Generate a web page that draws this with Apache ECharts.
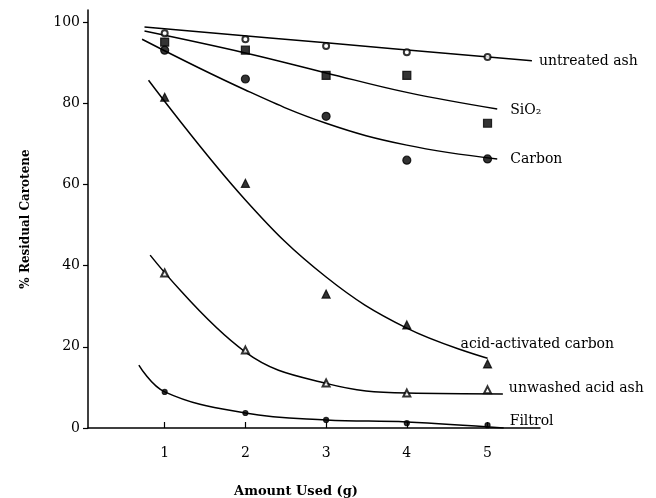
<!DOCTYPE html>
<html>
<head>
<meta charset="utf-8">
<script src="https://cdn.jsdelivr.net/npm/echarts@6/dist/echarts.min.js"></script>
<style>html,body{margin:0;padding:0;background:#fff}#c{width:656px;height:498px}</style>
</head>
<body>
<div id="c"></div>
<script>
// Measured points
const amounts = [1, 2, 3, 4, 5];
const untreatedAsh = [97.3, 95.8, 94.1, 92.6, 91.4];
const sio2 = [95.1, 93.1, 86.9, 86.9, 75.1];
const carbon = [93.1, 86.0, 76.8, 66.0, 66.3];
const acidActivatedCarbon = [81.5, 60.3, 33.0, 25.4, 15.8];
const unwashedAcidAsh = [38.2, 19.2, 11.1, 8.6, 9.4];
const filtrol = [8.9, 3.7, 2.0, 1.2, 0.7];

// Fitted curves
const untreatedFitX = [0.75, 3, 5.55];
const untreatedFitY = [98.8, 94.9, 90.5];
const sio2FitX = [0.75, 2, 3, 4, 5.12];
const sio2FitY = [97.8, 92.4, 87.5, 82.7, 78.6];
const carbonFitX = [0.72, 2, 3, 4, 5.12];
const carbonFitY = [95.8, 83.3, 75.1, 69.7, 66.3];
const acidFitX = [0.8, 2, 3, 4, 5];
const acidFitY = [85.7, 56.2, 37.2, 24.6, 17.2];
const unwashedFitX = [0.82, 2, 3, 4, 5.19];
const unwashedFitY = [42.6, 18.7, 11.0, 8.6, 8.4];
const filtrolFitX = [0.68, 1, 2, 3, 4, 5.2];
const filtrolFitY = [15.5, 8.9, 3.7, 2.0, 1.5, 0.0];

const xTicks = [1, 2, 3, 4, 5];
const yTicks = [0, 20, 40, 60, 80, 100];

const seriesNames = ['untreated ash', 'SiO₂', 'Carbon', 'acid-activated carbon', 'unwashed acid ash', 'Filtrol'];

const zip = (xs, ys) => xs.map((x, i) => [x, ys[i]]);
const FONT = 'DejaVu Serif';

function fit(name, xs, ys, offset) {
  return {
    type: 'line', name: name, data: zip(xs, ys), smooth: 0.4,
    showSymbol: false, symbol: 'none', silent: true,
    lineStyle: {color: '#000', width: 1.5},
    endLabel: {show: true, formatter: name, color: '#000', fontFamily: FONT, fontSize: 14,
      distance: 6, offset: offset},
    z: 2
  };
}
function pts(values, symbol, size) {
  return {
    type: 'scatter', data: zip(amounts, values), symbol: symbol, symbolSize: size, silent: true,
    itemStyle: {color: '#000', borderColor: '#000', borderWidth: 1.2},
    z: 3
  };
}

const chart = echarts.init(document.getElementById('c'), null, {renderer: 'canvas'});
chart.setOption({
  backgroundColor: '#fff',
  animation: false,
  grid: {left: 88, right: 116, top: 10, bottom: 70, containLabel: false, outerBoundsMode: 'none'},
  xAxis: {
    type: 'value', min: 0.05, max: 5.65,
    name: 'Amount Used (g)', nameLocation: 'middle', nameGap: 57,
    nameTextStyle: {color: '#000', fontFamily: FONT, fontSize: 13, fontWeight: 'bold', padding: [0, 36, 0, 0]},
    axisLine: {lineStyle: {color: '#000', width: 1.5}},
    axisTick: {show: true, inside: true, length: 6, lineStyle: {color: '#000', width: 1.2}, customValues: xTicks},
    axisLabel: {color: '#000', fontFamily: FONT, fontSize: 14, margin: 18, customValues: xTicks},
    splitLine: {show: false}
  },
  yAxis: {
    type: 'value', min: 0, max: 103,
    name: '% Residual Carotene', nameLocation: 'middle', nameRotate: 90, nameGap: 56,
    nameTextStyle: {color: '#000', fontFamily: FONT, fontSize: 12, fontWeight: 'bold'},
    axisLine: {show: true, lineStyle: {color: '#000', width: 1.5}},
    axisTick: {show: true, length: 5, lineStyle: {color: '#000', width: 1.2}, customValues: yTicks},
    axisLabel: {color: '#000', fontFamily: FONT, fontSize: 14, margin: 8, customValues: yTicks},
    splitLine: {show: false}
  },
  series: [
    fit(seriesNames[0], untreatedFitX, untreatedFitY, [1, 1]),
    fit(seriesNames[1], sio2FitX, sio2FitY, [7, 1]),
    fit(seriesNames[2], carbonFitX, carbonFitY, [7, 0]),
    fit(seriesNames[3], acidFitX, acidFitY, [-33, -14]),
    fit(seriesNames[4], unwashedFitX, unwashedFitY, [0, -6]),
    fit(seriesNames[5], filtrolFitX, filtrolFitY, [0, -7]),
    pts(untreatedAsh, 'emptyCircle', 6),
    pts(sio2, 'rect', 8),
    pts(carbon, 'circle', 8),
    pts(acidActivatedCarbon, 'triangle', 8),
    pts(unwashedAcidAsh, 'emptyTriangle', 7),
    pts(filtrol, 'circle', 5)
  ]
});
</script>
</body>
</html>
